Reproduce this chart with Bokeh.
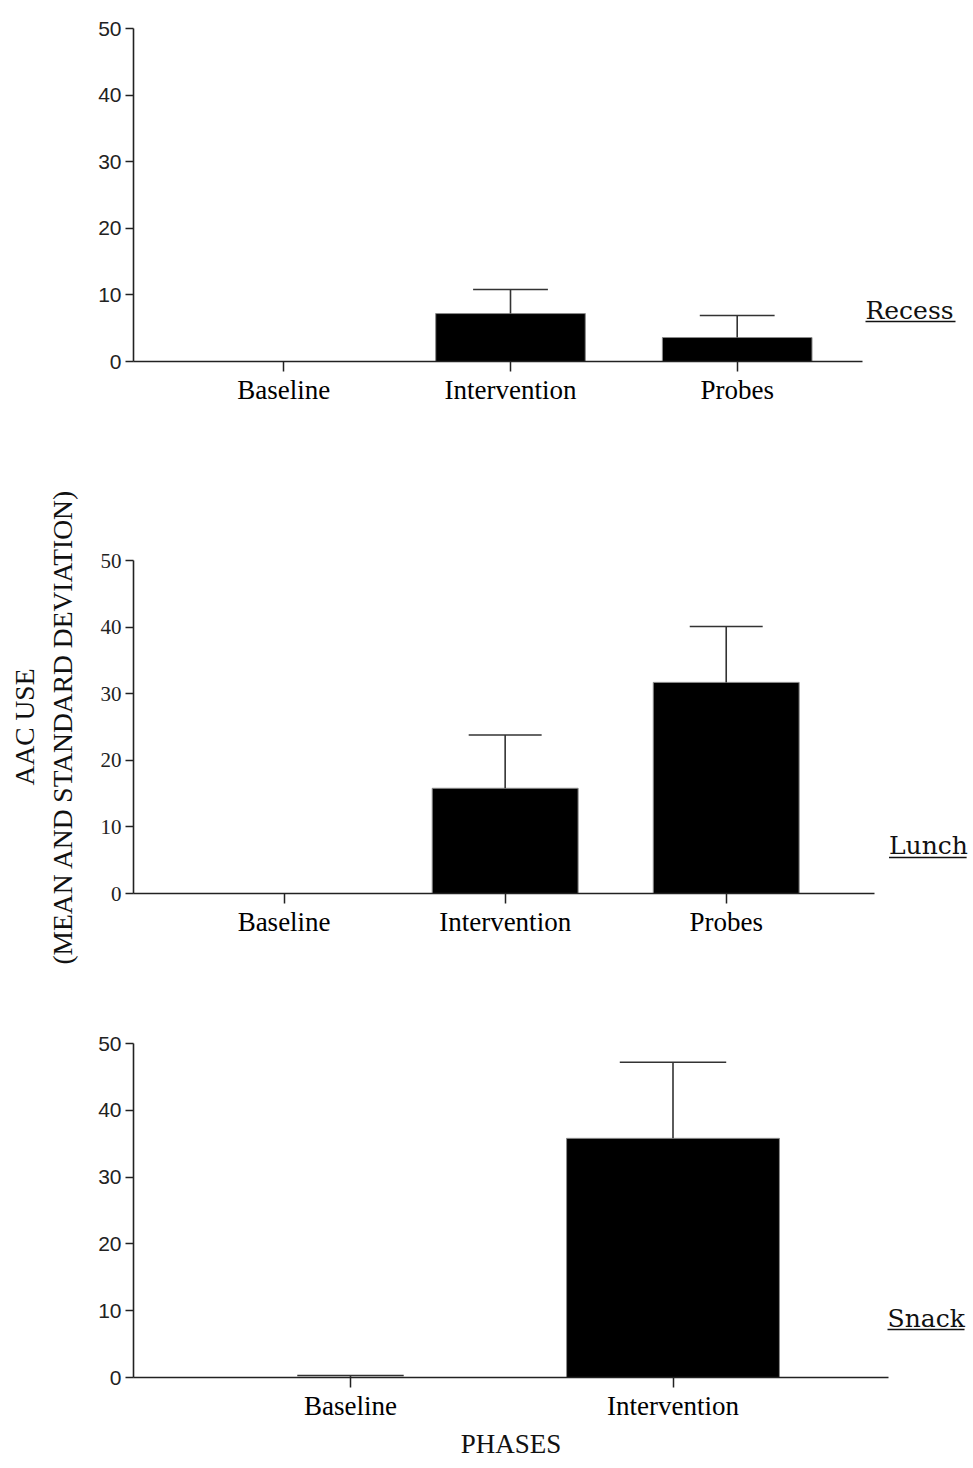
from bokeh.plotting import figure
from bokeh.layouts import column
from bokeh.models import Range1d, FixedTicker, Title
from bokeh.core.properties import value
from bokeh.embed import file_html
from bokeh.resources import INLINE

# ---------------- data ----------------
recess_phases = ["Baseline", "Intervention", "Probes"]
recess_mean = [0.0, 7.2, 3.6]
recess_sd = [0.0, 3.6, 3.3]

lunch_phases = ["Baseline", "Intervention", "Probes"]
lunch_mean = [0.0, 15.8, 31.7]
lunch_sd = [0.0, 8.0, 8.4]

snack_phases = ["Baseline", "Intervention"]
snack_mean = [0.0, 35.8]
snack_sd = [0.3, 11.4]

y_ticks = [0, 10, 20, 30, 40, 50]
setting_names = ["Recess", "Lunch", "Snack"]

W = 973
SERIF = "Liberation Serif"
SANS = "Liberation Sans"


def panel(cats, means, sds, name, fig_top, height, top_b, frame_h, left_px,
          spacing, first_c, axis_end, tick_font, tick_size, name_px,
          ylabel=None, xlabel=None):
    # page-pixel layout -> data ranges
    x0 = -(first_c - left_px) / spacing
    frame_w = W - left_px
    x1 = x0 + frame_w / spacing
    p = figure(width=W, height=height, output_backend="svg",
               toolbar_location=None,
               x_range=Range1d(x0, x1), y_range=Range1d(0, 50),
               min_border_left=left_px, min_border_right=0,
               min_border_top=top_b,
               min_border_bottom=height - top_b - frame_h)
    p.outline_line_color = None
    p.grid.visible = False
    p.background_fill_color = "white"
    p.border_fill_color = "white"

    frame_top_page = fig_top + top_b
    frame_bottom_page = frame_top_page + frame_h

    def dx(px):
        return x0 + (px - left_px) / spacing

    def dy(py):
        return (frame_bottom_page - py) / frame_h * 50.0

    idx = list(range(len(cats)))
    p.vbar(x=idx, top=means, width=0.66, bottom=0, fill_color="black",
           line_color="#8a8a8a", line_width=1)
    ex = [i for i, s in zip(idx, sds) if s > 0]
    em = [m for m, s in zip(means, sds) if s > 0]
    et = [m + s for m, s in zip(means, sds) if s > 0]
    p.segment(x0=ex, y0=em, x1=ex, y1=et, line_color="#333333", line_width=1.6)
    p.segment(x0=[i - 0.165 for i in ex], y0=et, x1=[i + 0.165 for i in ex],
              y1=et, line_color="#333333", line_width=1.6)

    xa = p.xaxis[0]
    xa.ticker = FixedTicker(ticks=idx)
    xa.major_label_overrides = {i: c for i, c in zip(idx, cats)}
    axis_x_end = dx(axis_end)
    xa.bounds = (x0, axis_x_end)
    xa.minor_tick_line_color = None
    xa.major_tick_in = 0
    xa.major_tick_out = 10
    xa.major_tick_line_width = 1.5
    xa.axis_line_width = 1.6
    xa.axis_line_color = "#222222"
    xa.major_tick_line_color = "#222222"
    xa.major_label_text_font = SERIF
    xa.major_label_text_font_size = "27px"
    xa.major_label_text_color = "black"
    xa.major_label_standoff = 3

    ya = p.yaxis[0]
    ya.ticker = FixedTicker(ticks=y_ticks)
    ya.minor_tick_line_color = None
    ya.major_tick_in = 0
    ya.major_tick_out = 8
    ya.major_tick_line_width = 1.5
    ya.axis_line_width = 1.6
    ya.axis_line_color = "#222222"
    ya.major_tick_line_color = "#222222"
    ya.major_label_text_font = tick_font
    ya.major_label_text_font_size = tick_size
    ya.major_label_text_color = "#222222"
    ya.major_label_standoff = 4

    if ylabel:
        ya.axis_label = ylabel
        ya.axis_label_text_font = SERIF
        ya.axis_label_text_font_size = "27.5px"
        ya.axis_label_text_font_style = "normal"
        ya.axis_label_text_color = "#111111"
        ya.axis_label_standoff = 20
    if xlabel:
        # text width of the label ~ 3.72 em; centre it under the axis line
        text_w = 3.72 * 27
        centre_px = (left_px + axis_end) / 2.0
        t = Title(text=xlabel, align="left",
                  offset=centre_px - text_w / 2.0 - left_px,
                  text_font=SERIF, text_font_size="27px",
                  text_font_style="normal", text_color="#111111",
                  standoff=6)
        p.add_layout(t, "below")

    # setting name, underlined (positions given in page pixels)
    tx, tmid, ux0, ux1, uy = name_px
    p.text(x=[dx(tx)], y=[dy(tmid)], text=[name],
           text_font=value("DejaVu Serif"),
           text_font_size="25px", text_baseline="middle", text_align="left",
           text_color="#111111")
    p.segment(x0=[dx(ux0)], y0=[dy(uy)], x1=[dx(ux1)], y1=[dy(uy)],
              line_color="#111111", line_width=1.6)
    return p


p1 = panel(recess_phases, recess_mean, recess_sd, setting_names[0],
           fig_top=0, height=460, top_b=28, frame_h=333, left_px=133,
           spacing=226.7, first_c=283.3, axis_end=862, tick_font=SANS,
           tick_size="21px", name_px=(865, 310, 865, 955, 321))
p2 = panel(lunch_phases, lunch_mean, lunch_sd, setting_names[1],
           fig_top=460, height=510, top_b=100, frame_h=333, left_px=118,
           spacing=225.0, first_c=271.3, axis_end=872, tick_font=SERIF,
           tick_size="21px", name_px=(887, 845, 887, 966, 857),
           ylabel="AAC USE\n(MEAN AND STANDARD DEVIATION)")
p3 = panel(snack_phases, snack_mean, snack_sd, setting_names[2],
           fig_top=970, height=498, top_b=73, frame_h=334, left_px=133,
           spacing=322.5, first_c=350, axis_end=888, tick_font=SANS,
           tick_size="21px", name_px=(887, 1318, 887, 964, 1329),
           xlabel="PHASES")

layout = column(p1, p2, p3, spacing=0)
open("out.html", "w").write(file_html(layout, INLINE))
